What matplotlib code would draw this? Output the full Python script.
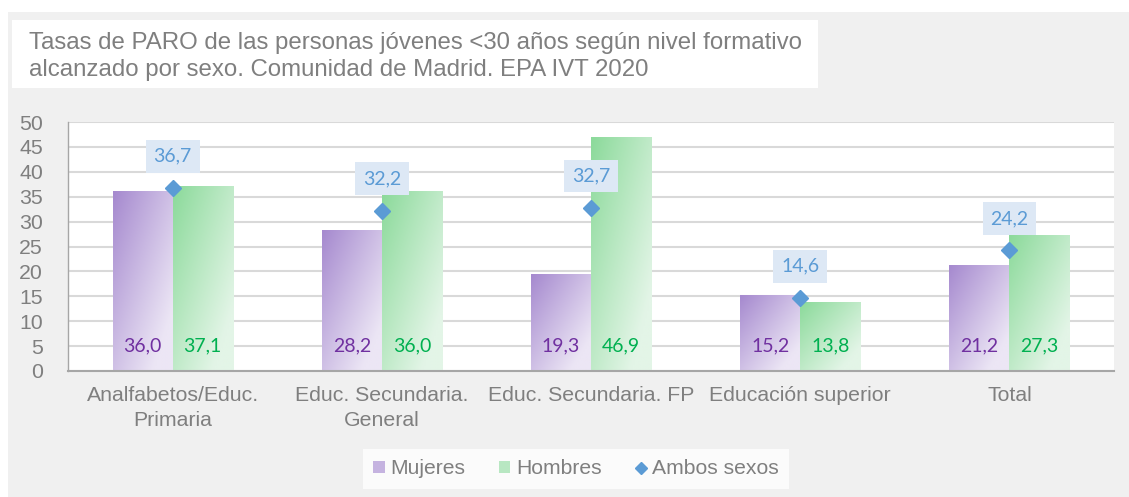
import matplotlib
matplotlib.use("Agg")
import matplotlib.pyplot as plt
import numpy as np
from matplotlib.colors import LinearSegmentedColormap
from matplotlib.patches import Rectangle, Patch
from matplotlib.lines import Line2D

plt.rcParams["font.family"] = ["Liberation Sans", "DejaVu Sans"]

categories = ["Analfabetos/Educ.\nPrimaria", "Educ. Secundaria.\nGeneral",
              "Educ. Secundaria. FP", "Educación superior", "Total"]
mujeres = [36.0, 28.2, 19.3, 15.2, 21.2]
hombres = [37.1, 36.0, 46.9, 13.8, 27.3]
ambos = [36.7, 32.2, 32.7, 14.6, 24.2]
yticks = list(range(0, 51, 5))

GREY_TXT = "#7f7f7f"
BLUE = "#5b9bd5"

fig = plt.figure(figsize=(11.29, 4.97), dpi=100, facecolor="white")
# grey chart area behind everything
fig.patches.append(Rectangle((8 / 1129, 0), 1, 1 - 12 / 497, transform=fig.transFigure,
                             facecolor="#f0f0f0", edgecolor="none", zorder=-10))
# white title box
fig.patches.append(Rectangle((12 / 1129, 1 - 88 / 497), 806 / 1129, 68 / 497,
                             transform=fig.transFigure, facecolor="white",
                             edgecolor="none", zorder=-5))
fig.text(29 / 1129, 1 - 43 / 497,
         "Tasas de PARO de las personas jóvenes <30 años según nivel formativo",
         fontsize=17.3, color=GREY_TXT, va="center", ha="left")
fig.text(29 / 1129, 1 - 70 / 497,
         "alcanzado por sexo. Comunidad de Madrid. EPA IVT 2020",
         fontsize=17.3, color=GREY_TXT, va="center", ha="left")

ax = fig.add_axes([68 / 1129, 126 / 497, 1046 / 1129, 249 / 497])
ax.set_facecolor("white")

x = np.arange(len(categories))
w = 0.287

purple_cmap = LinearSegmentedColormap.from_list("pur", ["#a68acf", "#ece6f5"])
green_cmap = LinearSegmentedColormap.from_list("grn", ["#8cda9b", "#e3f5e7"])

def gradient_bars(xs, vals, cmap):
    bars = ax.bar(xs, vals, width=w, color="none", edgecolor="none", zorder=2)
    n, m = 60, 30
    ii, jj = np.mgrid[0:n, 0:m]
    grad = np.clip(ii / (n - 1) * 0.6 + jj / (m - 1) * 0.6, 0, 1)
    for b in bars:
        x0, y0 = b.get_x(), b.get_y()
        ax.imshow(grad, cmap=cmap, vmin=0, vmax=1, origin="upper", aspect="auto",
                  extent=[x0, x0 + b.get_width(), y0, y0 + b.get_height()],
                  zorder=2, interpolation="bilinear")
    return bars

bm = gradient_bars(x - w / 2, mujeres, purple_cmap)
bh = gradient_bars(x + w / 2, hombres, green_cmap)

for bars, vals, col in [(bm, mujeres, "#7030a0"), (bh, hombres, "#00b050")]:
    for b, v in zip(bars, vals):
        ax.annotate(f"{v:.1f}".replace(".", ","), (b.get_x() + b.get_width() / 2, 0),
                    xytext=(0, 18), textcoords="offset points", ha="center",
                    va="center", fontsize=14, color=col,
                    family=["Lato", "DejaVu Sans"], zorder=4)

ax.plot(x, ambos, linestyle="none", marker="D", markersize=8, color=BLUE, zorder=5)
for xi, v in zip(x, ambos):
    ax.annotate(f"{v:.1f}".replace(".", ","), (xi, v), xytext=(0, 23),
                textcoords="offset points", ha="center", va="center", fontsize=14,
                color=BLUE, family=["Lato", "DejaVu Sans"], zorder=6,
                bbox=dict(boxstyle="square,pad=0.4", facecolor="#dde8f5", edgecolor="none"))

ax.set_xlim(-0.5, len(categories) - 0.5)
ax.set_ylim(0, 50)
ax.set_yticks(yticks)
ax.set_xticks(x)
ax.set_xticklabels(categories, fontsize=15.3, color=GREY_TXT, linespacing=1.35)
ax.tick_params(axis="y", length=0, pad=18, labelsize=15.3, labelcolor=GREY_TXT)
ax.tick_params(axis="x", length=0, pad=11)
ax.yaxis.grid(True, color="#d9d9d9", linewidth=1.5, zorder=0)
ax.set_axisbelow(True)
for s in ["top", "right"]:
    ax.spines[s].set_visible(False)
ax.spines["left"].set_color("#a6a6a6")
ax.spines["left"].set_linewidth(1.0)
ax.spines["bottom"].set_color("#a6a6a6")
ax.spines["bottom"].set_linewidth(1.5)

handles = [Patch(facecolor="#c5b3e0", edgecolor="none"),
           Patch(facecolor="#b8e7c2", edgecolor="none"),
           Line2D([], [], linestyle="none", marker="D", markersize=6.5, color=BLUE)]
leg = fig.legend(handles, ["Mujeres", "Hombres", "Ambos sexos"], loc="center",
                 bbox_to_anchor=(576 / 1129, 1 - 469 / 497), ncol=3, frameon=True,
                 fancybox=False, facecolor="white", edgecolor="none", fontsize=15.2,
                 labelcolor=GREY_TXT, handlelength=0.55, handleheight=0.55,
                 handletextpad=0.25, columnspacing=1.6, borderpad=0.5,
                 borderaxespad=0)
leg.get_frame().set_linewidth(0)

fig.savefig("out.png", dpi=100, facecolor=fig.get_facecolor())
